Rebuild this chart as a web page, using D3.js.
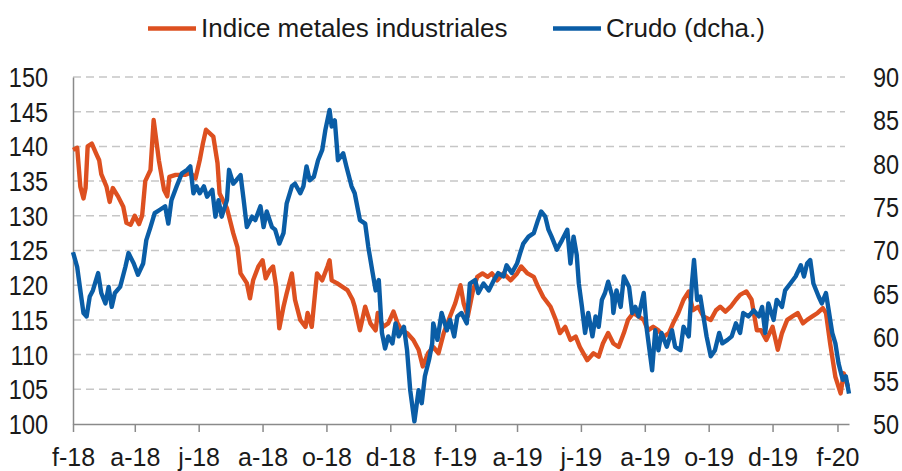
<!DOCTYPE html>
<html><head><meta charset="utf-8">
<script src="https://cdn.jsdelivr.net/npm/d3@7"></script>
<style>
body{margin:0;background:#fff}
svg{display:block}
text{font-family:"Liberation Sans",Arial,sans-serif;fill:#1a1a1a}
</style>
</head><body>
<svg id="c" width="902" height="471"></svg>
<script>
// ---- data ----
const seriesNames = ["Indice metales industriales", "Crudo (dcha.)"];
const tickDatesStr = ["2018-02-01","2018-04-01","2018-06-01","2018-08-01","2018-10-01","2018-12-01","2019-02-01","2019-04-01","2019-06-01","2019-08-01","2019-10-01","2019-12-01","2020-02-01"];
const tickLabels = ["f-18","a-18","j-18","a-18","o-18","d-18","f-19","a-19","j-19","a-19","o-19","d-19","f-20"];
const leftTicks = [100,105,110,115,120,125,130,135,140,145,150];
const rightTicks = [50,55,60,65,70,75,80,85,90];

const metals = [["2018-02-01",139.5],["2018-02-05",139.8],["2018-02-08",134.2],["2018-02-11",132.5],["2018-02-13",134],["2018-02-15",140],["2018-02-19",140.4],["2018-02-23",139],["2018-02-26",138],["2018-02-28",136],["2018-03-05",134.2],["2018-03-08",132],["2018-03-11",134],["2018-03-16",132.8],["2018-03-21",131.3],["2018-03-24",129],["2018-03-28",128.7],["2018-04-01",130],["2018-04-05",128.8],["2018-04-08",130],["2018-04-11",135],["2018-04-16",136.6],["2018-04-19",143.8],["2018-04-24",138],["2018-04-29",133.7],["2018-05-02",132.8],["2018-05-04",135.6],["2018-05-10",135.9],["2018-05-19",135.9],["2018-05-24",136.2],["2018-05-29",135.4],["2018-06-02",138],["2018-06-05",140.4],["2018-06-08",142.4],["2018-06-15",141.4],["2018-06-19",137.6],["2018-06-21",133.2],["2018-06-28",131.1],["2018-07-04",127.5],["2018-07-08",125.5],["2018-07-11",121.7],["2018-07-17",120.3],["2018-07-20",118.1],["2018-07-23",120.7],["2018-07-28",122.7],["2018-08-01",123.6],["2018-08-04",121],["2018-08-08",122.2],["2018-08-11",122.7],["2018-08-14",119.8],["2018-08-17",113.8],["2018-08-21",116.9],["2018-08-24",118.8],["2018-08-29",121.7],["2018-09-01",117.9],["2018-09-06",115],["2018-09-11",114],["2018-09-13",116],["2018-09-17",114],["2018-09-22",121.7],["2018-09-27",120.7],["2018-10-02",122.7],["2018-10-04",123.6],["2018-10-06",120.7],["2018-10-11",120.3],["2018-10-16",119.8],["2018-10-21",119.3],["2018-10-26",117.9],["2018-10-28",116.9],["2018-11-02",113.5],["2018-11-07",116.9],["2018-11-12",114.5],["2018-11-17",113.5],["2018-11-19",116],["2018-11-24",114],["2018-11-29",114.5],["2018-12-04",116.2],["2018-12-08",114.5],["2018-12-12",113.5],["2018-12-17",113.1],["2018-12-23",112.1],["2018-12-28",110.7],["2019-01-01",108.3],["2019-01-06",110.2],["2019-01-11",111.1],["2019-01-16",110.2],["2019-01-21",113.1],["2019-01-27",115.5],["2019-02-01",117.4],["2019-02-06",120],["2019-02-09",117.4],["2019-02-13",115.5],["2019-02-18",119.3],["2019-02-22",121.2],["2019-02-27",121.7],["2019-03-04",121.2],["2019-03-08",121.7],["2019-03-13",120.7],["2019-03-19",121.7],["2019-03-26",120.7],["2019-04-01",121.7],["2019-04-05",122.7],["2019-04-11",121.7],["2019-04-17",121.2],["2019-04-21",119.8],["2019-04-26",118.3],["2019-05-03",116.9],["2019-05-08",115],["2019-05-12",113.1],["2019-05-17",114],["2019-05-22",112.1],["2019-05-27",112.6],["2019-05-31",111.1],["2019-06-07",109.2],["2019-06-13",110.2],["2019-06-18",109.7],["2019-06-22",111.6],["2019-06-27",113.1],["2019-07-02",111.6],["2019-07-07",111.1],["2019-07-12",113.1],["2019-07-16",115],["2019-07-21",116],["2019-07-26",115.5],["2019-07-31",115],["2019-08-04",113.5],["2019-08-09",114],["2019-08-14",113.5],["2019-08-19",112.6],["2019-08-24",113.1],["2019-08-28",114.5],["2019-09-02",116],["2019-09-07",117.9],["2019-09-12",119.1],["2019-09-16",116.4],["2019-09-21",116.9],["2019-09-26",115.5],["2019-10-03",115],["2019-10-08",116.4],["2019-10-12",116.9],["2019-10-17",116.2],["2019-10-22",116.9],["2019-10-27",117.9],["2019-10-31",118.6],["2019-11-06",119.1],["2019-11-11",117.9],["2019-11-16",113.5],["2019-11-20",113.5],["2019-11-25",112.1],["2019-12-01",114],["2019-12-06",110.7],["2019-12-10",113.1],["2019-12-15",115],["2019-12-20",115.5],["2019-12-25",116],["2019-12-30",114.5],["2020-01-03",115],["2020-01-08",115.5],["2020-01-13",116],["2020-01-18",116.7],["2020-01-21",116],["2020-01-25",111.6],["2020-01-30",106.8],["2020-02-04",104.4],["2020-02-07",107.3],["2020-02-11",105.4]];

const crude = [["2018-02-01",69.8],["2018-02-05",68.1],["2018-02-08",65.4],["2018-02-11",62.8],["2018-02-14",62.4],["2018-02-17",64.7],["2018-02-20",65.4],["2018-02-25",67.4],["2018-02-28",65.1],["2018-03-04",63.9],["2018-03-07",65.8],["2018-03-10",63.5],["2018-03-13",65.1],["2018-03-18",65.8],["2018-03-23",68.1],["2018-03-26",69.7],["2018-03-31",68.5],["2018-04-04",67.2],["2018-04-09",68.5],["2018-04-12",71.2],["2018-04-16",72.7],["2018-04-20",74.3],["2018-04-25",74.7],["2018-04-30",75.1],["2018-05-03",73.1],["2018-05-06",75.8],["2018-05-11",77.4],["2018-05-16",78.9],["2018-05-21",79.3],["2018-05-24",79.7],["2018-05-27",76.6],["2018-05-30",77.4],["2018-06-02",76.6],["2018-06-06",77.4],["2018-06-09",76.2],["2018-06-14",77],["2018-06-17",73.9],["2018-06-20",75.8],["2018-06-23",73.9],["2018-06-28",75.8],["2018-06-30",79.3],["2018-07-04",77.7],["2018-07-07",78.1],["2018-07-11",78.7],["2018-07-14",75.8],["2018-07-17",72.7],["2018-07-22",73.9],["2018-07-25",73.5],["2018-07-30",75.1],["2018-08-02",72.7],["2018-08-05",74.5],["2018-08-10",72.7],["2018-08-13",72.4],["2018-08-17",70.8],["2018-08-21",72],["2018-08-24",75.4],["2018-08-29",77.4],["2018-09-01",77.7],["2018-09-06",76.6],["2018-09-09",77.4],["2018-09-12",79.7],["2018-09-15",78.1],["2018-09-19",78.5],["2018-09-23",80.4],["2018-09-27",81.6],["2018-09-30",83.9],["2018-10-04",86.2],["2018-10-06",84.3],["2018-10-09",85],["2018-10-12",80.4],["2018-10-17",81.2],["2018-10-20",79.7],["2018-10-25",77.4],["2018-10-28",76.6],["2018-11-02",73.5],["2018-11-07",73.1],["2018-11-10",70.4],["2018-11-14",67.5],["2018-11-17",65.4],["2018-11-20",66.6],["2018-11-23",60.5],["2018-11-26",58.7],["2018-11-29",60.1],["2018-12-03",59.3],["2018-12-06",61.6],["2018-12-09",60.1],["2018-12-14",61.2],["2018-12-17",58.5],["2018-12-20",53.9],["2018-12-24",50.3],["2018-12-28",53.9],["2018-12-31",52.4],["2019-01-03",55.5],["2019-01-07",57.4],["2019-01-10",59.3],["2019-01-11",61.6],["2019-01-15",59.7],["2019-01-19",62.8],["2019-01-24",60.8],["2019-01-27",62],["2019-01-31",60.1],["2019-02-03",62.4],["2019-02-07",62.8],["2019-02-12",61.6],["2019-02-15",66.2],["2019-02-20",66.6],["2019-02-23",65.1],["2019-02-28",66.2],["2019-03-05",65.4],["2019-03-10",66.6],["2019-03-14",67.4],["2019-03-19",67],["2019-03-22",68.3],["2019-03-27",67.4],["2019-04-01",68.5],["2019-04-04",69.7],["2019-04-07",70.8],["2019-04-12",71.6],["2019-04-17",72],["2019-04-21",73.5],["2019-04-24",74.5],["2019-04-28",73.9],["2019-05-01",72.4],["2019-05-04",71.6],["2019-05-09",70.1],["2019-05-14",71.2],["2019-05-19",72.4],["2019-05-22",68.5],["2019-05-25",71.6],["2019-05-28",69.5],["2019-05-30",66.2],["2019-06-02",63.5],["2019-06-05",60.5],["2019-06-08",62.8],["2019-06-12",60.1],["2019-06-15",62.4],["2019-06-18",61.2],["2019-06-21",64.3],["2019-06-24",65.1],["2019-06-27",66.4],["2019-07-01",64.7],["2019-07-02",62.8],["2019-07-05",65.4],["2019-07-09",63.5],["2019-07-12",67],["2019-07-17",65.8],["2019-07-20",62.8],["2019-07-23",63.5],["2019-07-26",62.4],["2019-07-31",65.1],["2019-08-03",60.8],["2019-08-08",56.2],["2019-08-11",60.8],["2019-08-14",58.5],["2019-08-17",60.5],["2019-08-22",58.9],["2019-08-27",60.8],["2019-08-30",58.9],["2019-09-04",58.5],["2019-09-07",61.2],["2019-09-12",60.1],["2019-09-15",66.2],["2019-09-17",68.9],["2019-09-20",64.3],["2019-09-23",64.7],["2019-09-26",62.4],["2019-09-29",60.1],["2019-10-03",57.8],["2019-10-07",58.5],["2019-10-11",60.5],["2019-10-14",59.3],["2019-10-19",59.7],["2019-10-23",60.1],["2019-10-27",61.6],["2019-10-31",60.5],["2019-11-03",62.8],["2019-11-08",62.4],["2019-11-13",63.1],["2019-11-18",62.4],["2019-11-21",63.5],["2019-11-24",60.5],["2019-11-27",63.9],["2019-12-02",62],["2019-12-05",64.3],["2019-12-10",63.5],["2019-12-13",65.4],["2019-12-18",66.2],["2019-12-23",67],["2019-12-28",68.3],["2019-12-31",67],["2020-01-03",68.5],["2020-01-06",68.9],["2020-01-09",66.2],["2020-01-14",64.7],["2020-01-17",63.9],["2020-01-21",65.1],["2020-01-24",62.8],["2020-01-27",60.5],["2020-01-30",59.3],["2020-02-02",57],["2020-02-06",55.1],["2020-02-09",55.5],["2020-02-12",53.5]];

const colors = ["#DD5020", "#0A5DA6"];

// ---- chart ----
const parse = d3.timeParse("%Y-%m-%d");
const svg = d3.select("#c");
const x = d3.scaleTime().domain([parse("2018-02-01"), parse("2020-02-12")]).range([73, 849]);
const yL = d3.scaleLinear().domain([100, 150]).range([424, 77]);
const yR = d3.scaleLinear().domain([50, 90]).range([424, 77]);
const sx = 0.87; // narrow the tall axis digits

// gridlines
svg.append("g").selectAll("line").data(leftTicks.filter(v => v > 100)).join("line")
  .attr("x1", 73).attr("x2", 845)
  .attr("y1", d => yL(d)).attr("y2", d => yL(d))
  .attr("stroke", "#c6c6c6").attr("stroke-width", 1.5).attr("stroke-dasharray", "8,5");

// left axis
const gL = svg.append("g").attr("transform", "translate(73,0)")
  .call(d3.axisLeft(yL).tickValues(leftTicks).tickSize(0).tickSizeOuter(0).tickPadding(25));
gL.select(".domain").attr("stroke", "#8a8a8a").attr("stroke-width", 1.5);
gL.selectAll("text").attr("font-size", 27).attr("fill", "#1a1a1a")
  .attr("x", -25 / sx).attr("dy", "0.35em").attr("transform", `scale(${sx},1)`)
  .style("font-family", '"Liberation Sans",Arial,sans-serif');

// right axis (labels only)
const gR = svg.append("g").attr("transform", "translate(873,0)")
  .call(d3.axisRight(yR).tickValues(rightTicks).tickSize(0).tickPadding(0));
gR.select(".domain").remove();
gR.selectAll("text").attr("font-size", 27).attr("fill", "#1a1a1a")
  .attr("x", 0).attr("dy", "0.35em").attr("transform", `scale(${sx},1)`)
  .style("font-family", '"Liberation Sans",Arial,sans-serif');

// bottom axis
const tickDates = tickDatesStr.map(parse);
const gB = svg.append("g").attr("transform", "translate(0,424)")
  .call(d3.axisBottom(x).tickValues(tickDates).tickFormat((d, i) => tickLabels[i]).tickSize(8).tickSizeOuter(0));
gB.select(".domain").attr("stroke", "#8a8a8a").attr("stroke-width", 1.5);
gB.selectAll(".tick line").attr("stroke", "#8a8a8a").attr("stroke-width", 1.5);
gB.selectAll("text").attr("y", 42).attr("dy", 0).attr("font-size", 25).attr("fill", "#1a1a1a")
  .style("font-family", '"Liberation Sans",Arial,sans-serif');

// lines
const lineL = d3.line().x(d => x(parse(d[0]))).y(d => yL(d[1]));
const lineR = d3.line().x(d => x(parse(d[0]))).y(d => yR(d[1]));
svg.append("path").datum(metals).attr("d", lineL).attr("fill", "none")
  .attr("stroke", colors[0]).attr("stroke-width", 4.4).attr("stroke-linejoin", "round");
svg.append("path").datum(crude).attr("d", lineR).attr("fill", "none")
  .attr("stroke", colors[1]).attr("stroke-width", 4.4).attr("stroke-linejoin", "round");

// legend
const legend = [
  {name: seriesNames[0], color: colors[0], x1: 148, x2: 196, tx: 201},
  {name: seriesNames[1], color: colors[1], x1: 553, x2: 601, tx: 606}
];
const lg = svg.append("g");
legend.forEach(l => {
  lg.append("line").attr("x1", l.x1).attr("x2", l.x2).attr("y1", 28.5).attr("y2", 28.5)
    .attr("stroke", l.color).attr("stroke-width", 4.5);
  lg.append("text").attr("x", l.tx).attr("y", 37).attr("font-size", 26).text(l.name);
});
</script>
</body></html>
